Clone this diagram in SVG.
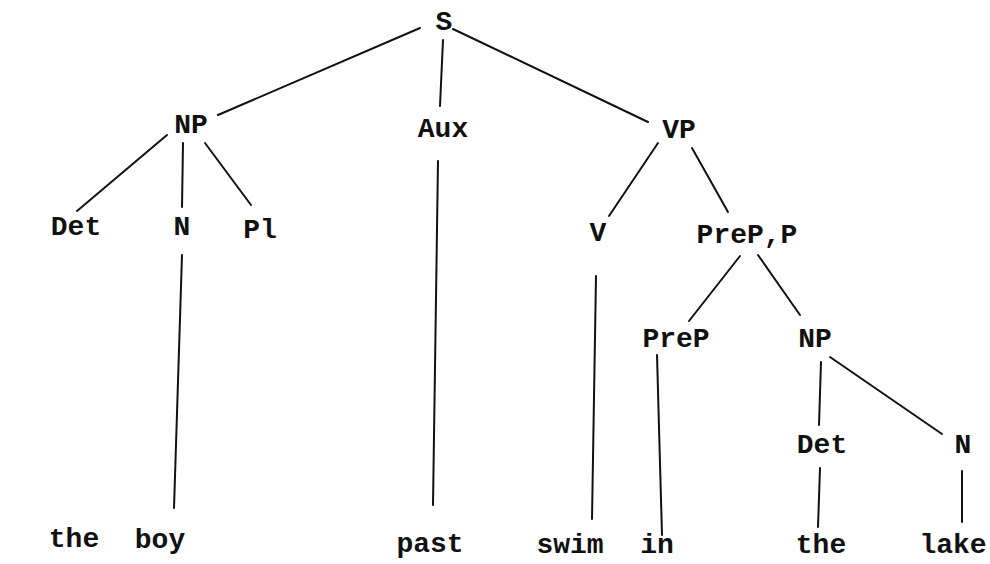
<svg xmlns="http://www.w3.org/2000/svg" width="990" height="564" viewBox="0 0 990 564">
<style>
text{font-family:"Liberation Mono","DejaVu Sans Mono",monospace;font-size:28px;fill:#111;text-anchor:middle;font-weight:bold}
.e line{stroke:#111;stroke-width:2;stroke-linecap:round}
</style>
<rect width="990" height="564" fill="#fff"/>
<g class="e" id="connectors">
<line x1="420" y1="28" x2="218" y2="115"/>
<line x1="443" y1="40" x2="440" y2="106"/>
<line x1="453" y1="29" x2="648" y2="122"/>
<line x1="167" y1="135" x2="77" y2="211"/>
<line x1="183" y1="143" x2="182" y2="207"/>
<line x1="205" y1="143" x2="251" y2="205"/>
<line x1="182" y1="255" x2="174" y2="508"/>
<line x1="438" y1="161" x2="433" y2="505"/>
<line x1="658" y1="143" x2="609" y2="216"/>
<line x1="692" y1="148" x2="728" y2="212"/>
<line x1="596" y1="276" x2="592" y2="519"/>
<line x1="740" y1="256" x2="689" y2="321"/>
<line x1="758" y1="255" x2="800" y2="315"/>
<line x1="657" y1="355" x2="662" y2="535"/>
<line x1="821" y1="362" x2="819" y2="425"/>
<line x1="830" y1="357" x2="942" y2="434"/>
<line x1="820" y1="468" x2="818" y2="527"/>
<line x1="962" y1="471" x2="962" y2="522"/>
</g>
<g id="n-S"><text x="444" y="30">S</text></g>
<g id="n-NP1"><text x="191" y="133">NP</text></g>
<g id="n-Aux"><text x="443" y="137">Aux</text></g>
<g id="n-VP"><text x="679" y="138">VP</text></g>
<g id="n-Det1"><text x="76" y="235">Det</text></g>
<g id="n-N1"><text x="182" y="235">N</text></g>
<g id="n-Pl"><text x="260" y="238">Pl</text></g>
<g id="n-V"><text x="598" y="241">V</text></g>
<g id="n-PrePP"><text x="747" y="243">PreP,P</text></g>
<g id="n-PreP"><text x="676" y="347">PreP</text></g>
<g id="n-NP2"><text x="815" y="347">NP</text></g>
<g id="n-Det2"><text x="822" y="453">Det</text></g>
<g id="n-N2"><text x="963" y="453">N</text></g>
<g id="w-the1"><text x="74" y="547">the</text></g>
<g id="w-boy"><text x="160" y="548">boy</text></g>
<g id="w-past"><text x="430" y="552">past</text></g>
<g id="w-swim"><text x="570" y="553">swim</text></g>
<g id="w-in"><text x="657" y="553">in</text></g>
<g id="w-the2"><text x="821" y="553">the</text></g>
<g id="w-lake"><text x="953" y="553">lake</text></g>
</svg>
